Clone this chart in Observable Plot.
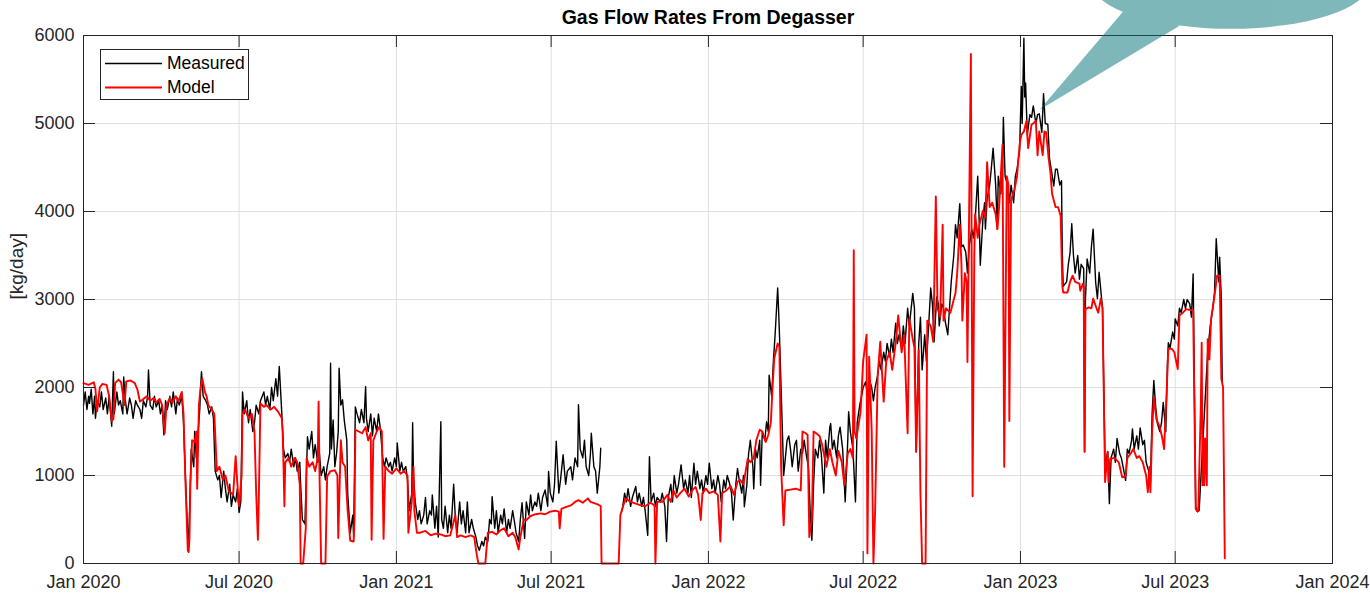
<!DOCTYPE html>
<html><head><meta charset="utf-8">
<script src="https://cdn.jsdelivr.net/npm/d3@7"></script>
<script src="https://cdn.jsdelivr.net/npm/@observablehq/plot@0.6"></script>
<style>
html,body{margin:0;padding:0;background:#fff;overflow:hidden;}
#chart{position:relative;width:1370px;height:598px;overflow:hidden;}
</style>
</head><body><div id="chart"></div>
<script>
const chartTitle = "Gas Flow Rates From Degasser";
const yLabel = "[kg/day]";
const seriesNames = ["Measured", "Model"];
const seriesColors = ["#000000", "#ff0000"];
const startDate = Date.UTC(2020, 0, 1);
const xTickDates = ["2020-01-01","2020-07-01","2021-01-01","2021-07-01","2022-01-01","2022-07-01","2023-01-01","2023-07-01","2024-01-01"];
const xTickLabels = ["Jan 2020","Jul 2020","Jan 2021","Jul 2021","Jan 2022","Jul 2022","Jan 2023","Jul 2023","Jan 2024"];
const yTicks = [0,1000,2000,3000,4000,5000,6000];
const calloutTip = {date: "2023-01-24", value: 5150};

// [days since 2020-01-01, kg/day]
const measuredPoints = [[0,1800],[2,1950],[4,1750],[6,1900],[7,1820],[9,1980],[11,1700],[13,1900],[14,1650],[16,1850],[19,1780],[21,1950],[23,1750],[26,1880],[28,1700],[30,1900],[33,1560],[35,2180],[36,1700],[39,1950],[41,1800],[43,1850],[46,1700],[47,2120],[49,1850],[51,1700],[54,1880],[56,1800],[58,1650],[61,1850],[63,1800],[66,1750],[68,1650],[70,1850],[73,1780],[75,1900],[76,2200],[78,1800],[81,1750],[83,1900],[85,1780],[88,1850],[90,1700],[92,1800],[94,1460],[96,1850],[98,1750],[101,1900],[103,1780],[105,1950],[108,1700],[110,1880],[112,1800],[115,1900],[117,1600],[119,1050],[122,300],[123,250],[125,900],[126,1300],[129,1100],[130,1500],[132,1200],[133,1350],[136,1750],[137,2000],[138,2180],[140,1900],[143,1850],[145,1800],[147,1700],[150,1780],[152,1650],[154,1050],[157,950],[159,1000],[161,750],[164,1050],[166,850],[168,700],[171,900],[173,650],[175,780],[178,700],[180,850],[182,580],[184,700],[186,1950],[188,1700],[191,1850],[193,1600],[195,1750],[198,1500],[200,1600],[202,1800],[205,1700],[207,1850],[211,1950],[213,1800],[215,1900],[218,1750],[220,2000],[222,1850],[225,2100],[227,1900],[229,2240],[232,1700],[234,1300],[236,1200],[239,1250],[241,1150],[243,1300],[246,1100],[248,1200],[250,1050],[253,1150],[254,900],[256,500],[259,450],[261,1100],[262,1440],[264,1300],[267,1500],[269,1200],[271,1350],[274,1150],[276,1250],[278,1000],[281,1100],[283,950],[285,1100],[288,1250],[289,2275],[290,1300],[292,1630],[294,1100],[296,1250],[298,1500],[299,2220],[301,1800],[303,1860],[305,1630],[308,1400],[309,800],[311,500],[312,350],[315,550],[316,300],[318,1780],[320,1700],[323,1600],[325,1750],[328,1600],[330,2010],[331,1650],[333,1500],[336,1700],[338,1450],[340,1650],[343,1500],[345,1700],[347,1550],[350,1200],[352,1100],[354,1200],[357,1100],[359,1150],[361,1050],[364,1200],[366,1100],[367,1370],[370,1050],[372,1150],[374,1050],[377,1100],[379,950],[381,600],[384,800],[385,1600],[386,1000],[388,700],[391,500],[393,600],[395,450],[398,550],[400,750],[402,450],[405,600],[407,550],[408,780],[411,400],[413,650],[415,300],[418,1610],[419,500],[421,400],[423,650],[426,350],[428,550],[430,400],[433,900],[435,500],[437,350],[440,700],[442,450],[444,600],[447,350],[449,700],[451,350],[454,500],[456,400],[459,300],[461,200],[463,150],[466,250],[468,200],[470,300],[473,250],[475,500],[477,450],[478,760],[481,400],[483,600],[485,350],[488,550],[490,450],[492,620],[495,350],[497,500],[499,400],[502,600],[504,480],[506,350],[509,250],[511,500],[513,690],[516,285],[518,700],[521,550],[523,780],[525,600],[528,700],[530,650],[532,800],[535,600],[537,750],[540,835],[543,650],[544,1045],[546,800],[549,700],[551,900],[553,1390],[556,800],[558,950],[561,1235],[564,900],[566,1050],[570,1100],[572,950],[575,1200],[578,1100],[579,1805],[581,1300],[584,1200],[586,1400],[588,1100],[591,1000],[593,1250],[594,1480],[597,1100],[599,1050],[601,800],[604,1100],[605,1310],[617,null],[630,600],[633,800],[635,700],[637,850],[640,650],[642,750],[646,875],[648,700],[650,800],[653,650],[655,750],[657,600],[660,320],[662,1215],[664,700],[667,800],[669,650],[671,750],[675,700],[677,800],[680,650],[682,250],[684,750],[687,900],[689,700],[691,1000],[694,800],[696,900],[699,1120],[702,850],[704,950],[707,800],[709,1000],[711,750],[714,1140],[716,900],[718,1050],[721,850],[723,950],[725,800],[728,1000],[730,900],[732,1140],[735,850],[737,950],[739,800],[742,1000],[744,900],[746,700],[749,950],[751,850],[753,1000],[756,900],[758,800],[760,495],[763,900],[765,1080],[767,950],[770,800],[772,1000],[773,645],[776,900],[778,1250],[780,1400],[783,1100],[784,850],[786,1300],[788,1200],[791,1400],[792,890],[794,1500],[797,1400],[799,1610],[801,1500],[802,2140],[805,1900],[807,2300],[809,2600],[812,3130],[813,2900],[814,2630],[816,2000],[818,1350],[819,1000],[821,1200],[823,1400],[825,1450],[827,1300],[829,1100],[832,1350],[834,1400],[836,1050],[839,1300],[841,1250],[843,1400],[846,1200],[848,1100],[850,600],[852,265],[854,900],[856,1300],[859,1200],[861,1400],[863,1250],[866,800],[868,1400],[870,1200],[873,1550],[874,1590],[876,1300],[878,1400],[881,1200],[883,1450],[885,1550],[888,1300],[890,900],[891,700],[894,1400],[895,1725],[897,1500],[900,1300],[903,700],[905,1600],[908,1800],[910,1900],[912,2000],[915,2065],[917,1900],[919,2100],[922,2000],[924,1850],[926,2000],[929,2140],[931,2300],[933,2200],[936,2400],[938,2300],[940,2500],[943,2350],[945,2550],[947,2400],[950,2730],[952,2500],[954,2600],[957,2450],[959,2700],[961,2500],[964,2900],[966,2700],[970,3070],[972,2900],[974,1270],[977,2500],[979,2800],[981,2200],[984,2600],[986,2300],[988,2600],[991,3130],[993,2950],[995,2520],[998,3030],[1000,2950],[1001,2700],[1004,2950],[1006,2900],[1008,2750],[1011,2600],[1013,2900],[1015,3200],[1018,3500],[1020,3850],[1022,3700],[1025,4090],[1027,3600],[1029,3620],[1032,3540],[1034,3300],[1036,3600],[1039,3800],[1041,3700],[1043,3900],[1046,4400],[1048,3800],[1049,3390],[1052,3900],[1054,4100],[1055,3800],[1057,4150],[1060,4300],[1062,4500],[1064,4720],[1067,4300],[1069,3800],[1070,4400],[1073,4200],[1075,4500],[1076,5070],[1078,4400],[1081,4300],[1083,4100],[1085,4300],[1088,4100],[1090,4400],[1092,4480],[1095,4700],[1097,5420],[1098,5000],[1100,5970],[1101,5300],[1102,5460],[1104,4870],[1107,5100],[1109,5070],[1111,5200],[1114,5000],[1116,5100],[1118,5110],[1121,4900],[1123,5340],[1125,5000],[1128,4990],[1130,4600],[1132,4480],[1135,4290],[1137,4480],[1139,4480],[1142,4300],[1144,4350],[1145,3500],[1146,3150],[1150,3200],[1152,3400],[1154,3530],[1156,3860],[1158,3500],[1160,3300],[1163,3500],[1165,3230],[1167,3400],[1170,3350],[1171,1270],[1172,3000],[1174,3460],[1177,3300],[1179,3600],[1181,3800],[1184,3190],[1186,3010],[1188,3310],[1191,3000],[1192,2900],[1195,1100],[1198,1270],[1200,680],[1202,1200],[1205,1300],[1207,1150],[1209,1420],[1212,1250],[1214,1200],[1217,1050],[1219,945],[1221,1300],[1223,1250],[1226,1400],[1227,1530],[1229,1300],[1232,1450],[1234,1300],[1236,1540],[1239,1350],[1241,1400],[1243,1150],[1246,1050],[1248,900],[1250,1700],[1252,2080],[1254,1800],[1256,1600],[1259,1500],[1261,1600],[1263,1830],[1266,1500],[1268,2300],[1269,2510],[1271,2450],[1274,2630],[1276,2550],[1277,2780],[1280,2700],[1282,2900],[1284,2850],[1287,3000],[1289,2900],[1291,3000],[1294,2950],[1296,2800],[1298,3290],[1301,650],[1303,590],[1305,600],[1315,2400],[1318,2700],[1321,2900],[1323,3080],[1325,3690],[1328,3200],[1329,3480],[1331,3000],[1332,2060]];

const modelPoints = [[0,2050],[6,2030],[12,2060],[14,1980],[16,1730],[19,2000],[22,2040],[27,2030],[30,1900],[33,1620],[35,1640],[37,2050],[41,2090],[44,2060],[48,1800],[50,2070],[55,2080],[60,2050],[63,1980],[66,1840],[69,1860],[74,1900],[78,1850],[82,1880],[85,1830],[89,1870],[92,1800],[95,1480],[97,1800],[101,1880],[104,1830],[108,1900],[111,1840],[115,1950],[117,1700],[119,1000],[122,150],[123,130],[124,300],[125,900],[127,1400],[130,1380],[132,1500],[133,850],[135,1800],[137,2000],[139,2100],[142,1950],[144,1900],[146,1800],[150,1750],[153,1700],[156,1050],[159,1100],[163,950],[166,1000],[170,820],[173,800],[175,780],[178,1220],[180,900],[182,650],[185,1000],[186,1700],[189,1750],[193,1650],[197,1700],[200,1500],[202,800],[204,270],[205,700],[207,1820],[211,1780],[214,1800],[219,1750],[223,1780],[228,1720],[232,1650],[233,1480],[234,1100],[235,650],[236,1150],[240,1200],[243,1100],[247,1200],[250,1150],[253,900],[254,0],[257,0],[260,400],[261,1200],[264,1100],[268,1150],[271,1050],[274,1200],[275,1840],[276,1050],[278,0],[283,0],[285,990],[289,1050],[294,1060],[297,1000],[298,290],[301,1400],[303,1150],[306,1100],[309,600],[312,260],[316,250],[317,500],[318,1520],[322,1500],[326,1480],[330,1550],[333,1400],[336,1480],[337,270],[339,1400],[343,1500],[346,1550],[349,1500],[351,280],[353,1100],[357,1050],[361,1020],[366,1080],[371,1020],[375,1050],[379,1000],[380,350],[384,700],[386,1100],[387,600],[390,350],[394,350],[400,370],[406,320],[412,340],[418,330],[423,310],[429,320],[435,550],[437,300],[441,320],[447,300],[453,320],[457,300],[460,100],[462,0],[470,0],[473,350],[478,360],[483,330],[488,380],[492,400],[497,310],[502,350],[505,300],[509,160],[511,300],[515,500],[518,495],[523,540],[529,560],[535,570],[540,560],[546,590],[552,600],[556,590],[557,400],[559,620],[564,640],[570,660],[575,700],[579,720],[584,690],[590,740],[593,700],[599,680],[602,670],[605,650],[606,0],[626,0],[628,550],[634,740],[640,700],[646,680],[652,660],[657,650],[663,690],[668,660],[669,0],[671,700],[677,700],[683,780],[687,700],[690,830],[694,750],[698,800],[703,850],[708,760],[712,830],[716,870],[719,780],[722,495],[724,800],[728,850],[732,800],[737,820],[742,780],[745,250],[747,800],[752,830],[757,880],[761,780],[765,930],[768,950],[772,900],[777,1190],[780,1150],[784,1200],[787,1400],[791,1520],[794,1500],[798,1380],[801,1460],[804,1600],[806,2000],[808,2330],[812,2500],[814,2460],[816,1100],[819,435],[821,830],[827,840],[833,850],[839,830],[841,1500],[845,1480],[847,1460],[849,300],[852,500],[854,1500],[857,1480],[861,1450],[864,1350],[869,1100],[873,1300],[876,1150],[880,1000],[883,1280],[887,1150],[890,890],[894,1250],[897,1300],[900,1200],[901,3560],[902,1500],[904,1420],[907,1600],[909,1725],[912,2300],[916,2600],[917,115],[919,2350],[922,1500],[924,0],[926,600],[929,2140],[932,2520],[936,1840],[939,2300],[943,2400],[946,2200],[950,2500],[953,2820],[957,2400],[960,2600],[964,1480],[966,2780],[970,2550],[972,2450],[974,1270],[977,2430],[979,800],[981,0],[985,0],[987,2760],[991,2700],[994,2520],[997,4170],[999,2900],[1002,2800],[1005,3850],[1006,2760],[1009,2900],[1014,2850],[1018,3000],[1020,3070],[1022,3300],[1025,3850],[1027,3390],[1028,2760],[1031,3300],[1033,3200],[1034,2290],[1038,5790],[1040,765],[1042,3500],[1043,3970],[1046,3700],[1048,3850],[1052,4010],[1055,3930],[1057,4560],[1060,4050],[1063,4100],[1067,3970],[1069,3800],[1071,4050],[1075,4760],[1077,1100],[1080,4400],[1082,4300],[1083,1620],[1085,4130],[1089,4250],[1092,4400],[1095,4760],[1097,4870],[1100,4910],[1103,5030],[1105,4720],[1109,4990],[1111,5000],[1114,5030],[1116,4640],[1118,4910],[1122,4640],[1124,4910],[1126,4900],[1129,4600],[1131,4450],[1133,4200],[1137,4050],[1140,4050],[1143,3950],[1145,3150],[1146,3080],[1151,3080],[1154,3200],[1157,3270],[1160,3200],[1165,3180],[1166,3100],[1169,3180],[1170,3150],[1171,1270],[1172,2890],[1176,2910],[1179,2900],[1181,3010],[1185,2900],[1187,2850],[1190,3010],[1192,2900],[1195,925],[1198,1270],[1199,925],[1201,1190],[1206,1200],[1211,1150],[1215,980],[1219,990],[1221,1200],[1225,1250],[1228,1300],[1232,1200],[1235,1220],[1239,1150],[1243,1000],[1245,810],[1247,1100],[1248,810],[1250,1500],[1252,1890],[1255,1640],[1259,1550],[1262,1420],[1264,1300],[1267,1950],[1269,2440],[1273,2440],[1276,2400],[1280,2210],[1282,2820],[1286,2850],[1290,2890],[1295,2880],[1298,2880],[1301,620],[1303,590],[1304,600],[1307,1800],[1308,2510],[1309,890],[1310,1420],[1311,890],[1312,1420],[1314,890],[1315,2550],[1317,2320],[1319,2780],[1323,3040],[1326,3270],[1329,3270],[1331,2100],[1333,2000],[1335,60]];

const DAY = 864e5;
const toRows = pts => pts.map(([d, v]) => ({date: new Date(startDate + d * DAY), value: v == null ? NaN : v}));
const measuredRows = toRows(measuredPoints);
const modelRows = toRows(modelPoints);
const tickDates = xTickDates.map(s => new Date(s + "T00:00:00Z"));
const labelMap = new Map(tickDates.map((d, i) => [+d, xTickLabels[i]]));

const W = 1370, H = 598, mL = 83, mR = 38, mT = 35, mB = 35;
const frameW = W - mL - mR, frameH = H - mT - mB, tickLen = 12;
const axisColor = "#262626", gridColor = "#dfdfdf";
const lineWidths = [1.4, 1.9];

const plot = Plot.plot({
  width: W, height: H,
  marginLeft: mL, marginRight: mR, marginTop: mT, marginBottom: mB,
  style: {fontFamily: "'Liberation Sans', Arial, Helvetica, sans-serif", fontSize: "18px", color: axisColor, background: "#fff"},
  x: {type: "utc", domain: [tickDates[0], tickDates[tickDates.length - 1]], label: null},
  y: {domain: [0, 6000], label: null},
  marks: [
    Plot.gridX(tickDates, {stroke: gridColor, strokeOpacity: 1}),
    Plot.gridY(yTicks, {stroke: gridColor, strokeOpacity: 1}),
    Plot.line(measuredRows, {x: "date", y: "value", stroke: seriesColors[0], strokeWidth: lineWidths[0]}),
    Plot.line(modelRows, {x: "date", y: "value", stroke: seriesColors[1], strokeWidth: lineWidths[1]}),
    Plot.frame({stroke: axisColor}),
    Plot.tickX(tickDates, {x: d => d, stroke: axisColor, insetTop: frameH - tickLen}),
    Plot.tickX(tickDates, {x: d => d, stroke: axisColor, insetBottom: frameH - tickLen}),
    Plot.tickY(yTicks, {y: d => d, stroke: axisColor, insetRight: frameW - tickLen}),
    Plot.tickY(yTicks, {y: d => d, stroke: axisColor, insetLeft: frameW - tickLen}),
    Plot.axisX(tickDates, {anchor: "bottom", tickSize: 0, tickPadding: 12, tickFormat: d => labelMap.get(+d), fill: axisColor}),
    Plot.axisY(yTicks, {anchor: "left", tickSize: 0, tickPadding: 9, tickFormat: d => String(d), fill: axisColor}),
    Plot.text([yLabel], {frameAnchor: "left", dx: -67, rotate: -90, fontSize: 19, fill: axisColor}),
    Plot.text([chartTitle], {frameAnchor: "top", lineAnchor: "middle", dy: -18, fontSize: 19.5, fontWeight: "bold", fill: "#000", letterSpacing: "0.3px"})
  ]
});
document.getElementById("chart").appendChild(plot);

// legend
const svg = d3.select(plot);
const lg = svg.append("g");
lg.append("rect").attr("x", 100.5).attr("y", 49.5).attr("width", 148).attr("height", 50)
  .attr("fill", "#fff").attr("stroke", axisColor);
seriesNames.forEach((name, i) => {
  const yy = 63 + i * 24;
  lg.append("line").attr("x1", 105).attr("x2", 162).attr("y1", yy + 0.5).attr("y2", yy + 0.5)
    .attr("stroke", seriesColors[i]).attr("stroke-width", lineWidths[i]);
  lg.append("text").attr("x", 167).attr("y", yy).attr("dy", "0.35em").attr("text-anchor", "start")
    .attr("font-size", 17.5).attr("fill", "#000").text(name);
});

// callout bubble (semi-transparent, drawn over the axes)
const tx = plot.scale("x").apply(new Date(calloutTip.date + "T00:00:00Z"));
const ty = plot.scale("y").apply(calloutTip.value);
const cg = svg.append("g").attr("fill", "#007177").attr("opacity", 0.5);
cg.append("ellipse").attr("cx", tx + 191).attr("cy", ty - 126).attr("rx", 138).attr("ry", 45);
cg.append("polygon").attr("points", `${tx},${ty} ${tx + 85},${ty - 100} ${tx + 140},${ty - 84}`);
</script>
</body></html>
